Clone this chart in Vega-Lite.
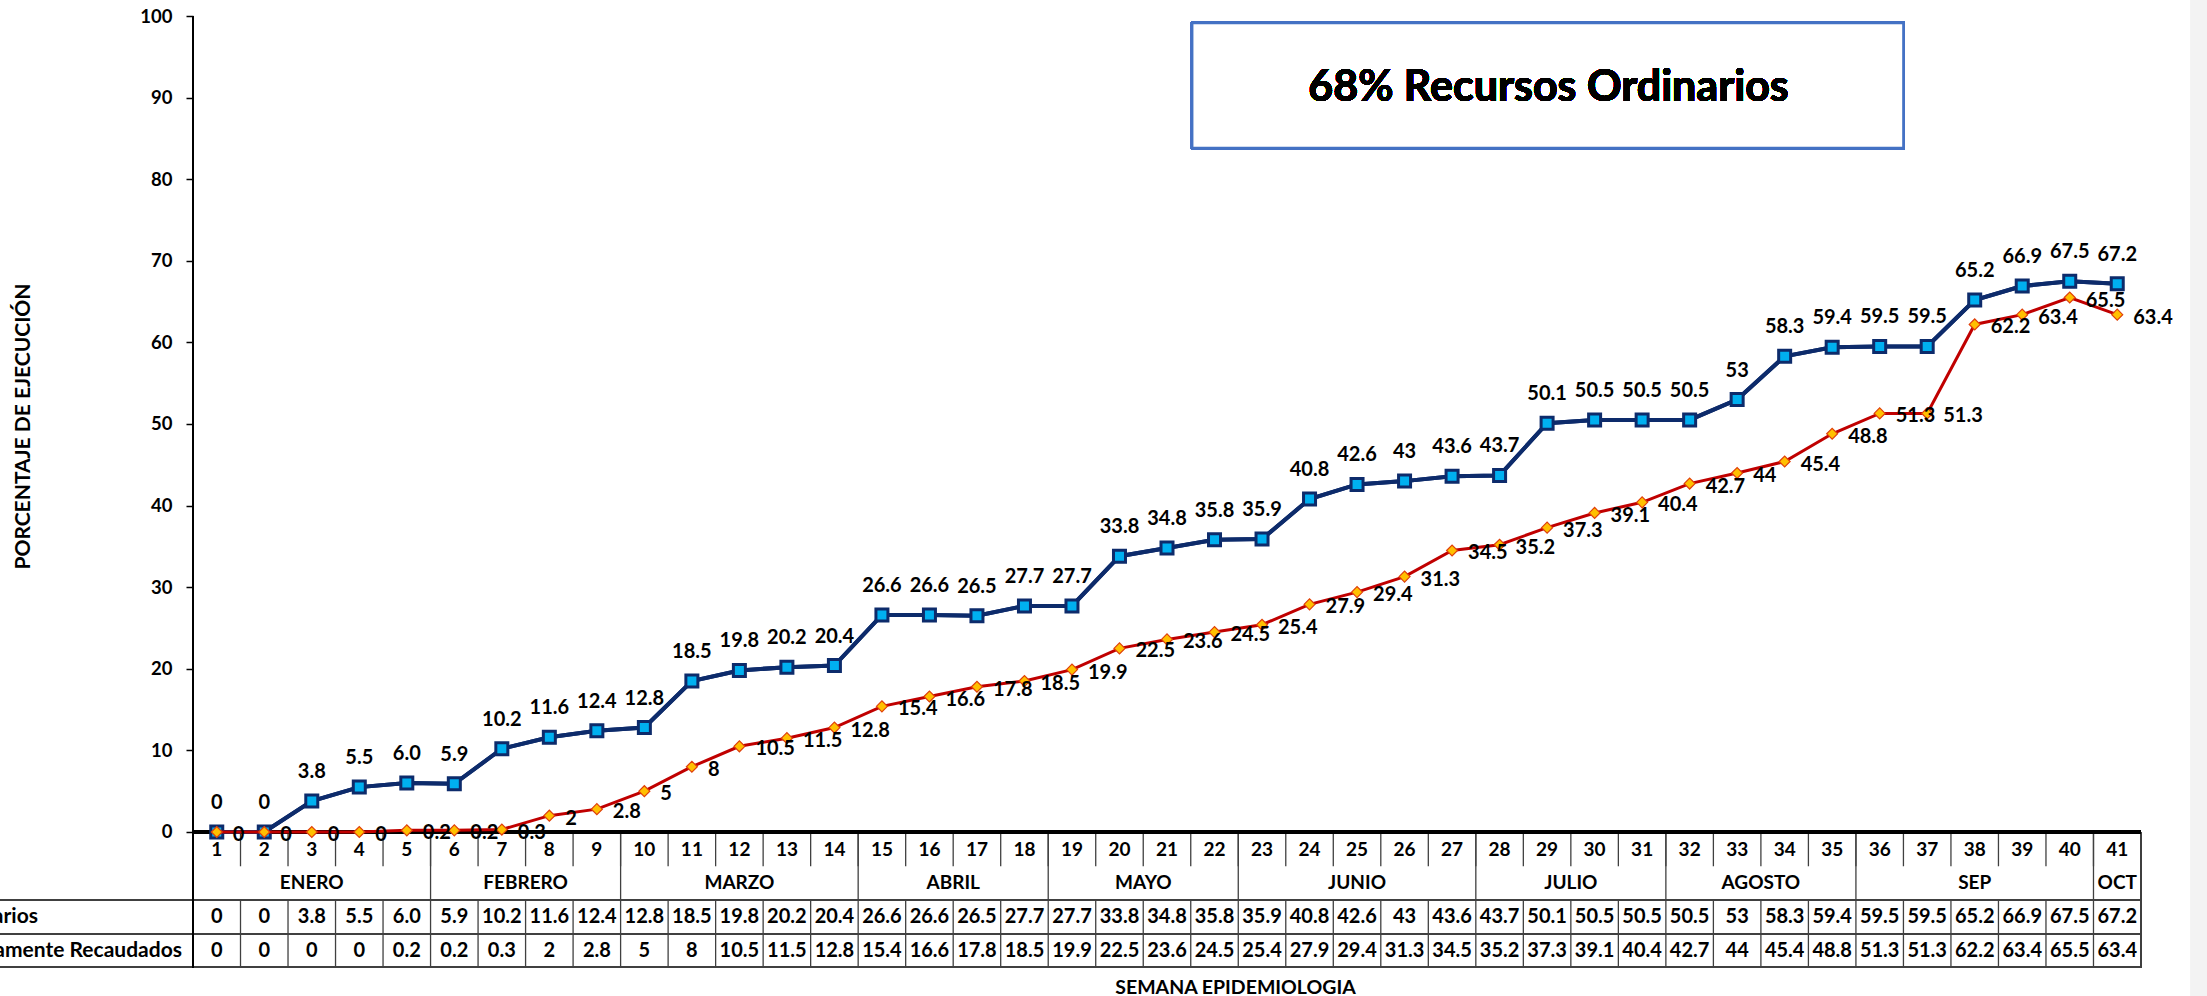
{
  "$schema": "https://vega.github.io/schema/vega-lite/v6.json",
  "width": 1948,
  "height": 952,
  "autosize": {"type": "none"},
  "padding": {"left": 193, "top": 16, "right": 66, "bottom": 28},
  "background": "white",
  "config": {"view": {"stroke": null}, "font": "Lato"},
  "datasets": {
    "semanas": [
      {"week": 1, "mes": "ENERO", "ro": 0, "ro_t": "0", "rdr": 0, "rdr_t": "0"},
      {"week": 2, "mes": "ENERO", "ro": 0, "ro_t": "0", "rdr": 0, "rdr_t": "0"},
      {"week": 3, "mes": "ENERO", "ro": 3.8, "ro_t": "3.8", "rdr": 0, "rdr_t": "0"},
      {"week": 4, "mes": "ENERO", "ro": 5.5, "ro_t": "5.5", "rdr": 0, "rdr_t": "0"},
      {"week": 5, "mes": "ENERO", "ro": 6.0, "ro_t": "6.0", "rdr": 0.2, "rdr_t": "0.2"},
      {"week": 6, "mes": "FEBRERO", "ro": 5.9, "ro_t": "5.9", "rdr": 0.2, "rdr_t": "0.2"},
      {"week": 7, "mes": "FEBRERO", "ro": 10.2, "ro_t": "10.2", "rdr": 0.3, "rdr_t": "0.3"},
      {"week": 8, "mes": "FEBRERO", "ro": 11.6, "ro_t": "11.6", "rdr": 2, "rdr_t": "2"},
      {"week": 9, "mes": "FEBRERO", "ro": 12.4, "ro_t": "12.4", "rdr": 2.8, "rdr_t": "2.8"},
      {"week": 10, "mes": "MARZO", "ro": 12.8, "ro_t": "12.8", "rdr": 5, "rdr_t": "5"},
      {"week": 11, "mes": "MARZO", "ro": 18.5, "ro_t": "18.5", "rdr": 8, "rdr_t": "8"},
      {"week": 12, "mes": "MARZO", "ro": 19.8, "ro_t": "19.8", "rdr": 10.5, "rdr_t": "10.5"},
      {"week": 13, "mes": "MARZO", "ro": 20.2, "ro_t": "20.2", "rdr": 11.5, "rdr_t": "11.5"},
      {"week": 14, "mes": "MARZO", "ro": 20.4, "ro_t": "20.4", "rdr": 12.8, "rdr_t": "12.8"},
      {"week": 15, "mes": "ABRIL", "ro": 26.6, "ro_t": "26.6", "rdr": 15.4, "rdr_t": "15.4"},
      {"week": 16, "mes": "ABRIL", "ro": 26.6, "ro_t": "26.6", "rdr": 16.6, "rdr_t": "16.6"},
      {"week": 17, "mes": "ABRIL", "ro": 26.5, "ro_t": "26.5", "rdr": 17.8, "rdr_t": "17.8"},
      {"week": 18, "mes": "ABRIL", "ro": 27.7, "ro_t": "27.7", "rdr": 18.5, "rdr_t": "18.5"},
      {"week": 19, "mes": "MAYO", "ro": 27.7, "ro_t": "27.7", "rdr": 19.9, "rdr_t": "19.9"},
      {"week": 20, "mes": "MAYO", "ro": 33.8, "ro_t": "33.8", "rdr": 22.5, "rdr_t": "22.5"},
      {"week": 21, "mes": "MAYO", "ro": 34.8, "ro_t": "34.8", "rdr": 23.6, "rdr_t": "23.6"},
      {"week": 22, "mes": "MAYO", "ro": 35.8, "ro_t": "35.8", "rdr": 24.5, "rdr_t": "24.5"},
      {"week": 23, "mes": "JUNIO", "ro": 35.9, "ro_t": "35.9", "rdr": 25.4, "rdr_t": "25.4"},
      {"week": 24, "mes": "JUNIO", "ro": 40.8, "ro_t": "40.8", "rdr": 27.9, "rdr_t": "27.9"},
      {"week": 25, "mes": "JUNIO", "ro": 42.6, "ro_t": "42.6", "rdr": 29.4, "rdr_t": "29.4"},
      {"week": 26, "mes": "JUNIO", "ro": 43, "ro_t": "43", "rdr": 31.3, "rdr_t": "31.3"},
      {"week": 27, "mes": "JUNIO", "ro": 43.6, "ro_t": "43.6", "rdr": 34.5, "rdr_t": "34.5"},
      {"week": 28, "mes": "JULIO", "ro": 43.7, "ro_t": "43.7", "rdr": 35.2, "rdr_t": "35.2"},
      {"week": 29, "mes": "JULIO", "ro": 50.1, "ro_t": "50.1", "rdr": 37.3, "rdr_t": "37.3"},
      {"week": 30, "mes": "JULIO", "ro": 50.5, "ro_t": "50.5", "rdr": 39.1, "rdr_t": "39.1"},
      {"week": 31, "mes": "JULIO", "ro": 50.5, "ro_t": "50.5", "rdr": 40.4, "rdr_t": "40.4"},
      {"week": 32, "mes": "AGOSTO", "ro": 50.5, "ro_t": "50.5", "rdr": 42.7, "rdr_t": "42.7"},
      {"week": 33, "mes": "AGOSTO", "ro": 53, "ro_t": "53", "rdr": 44, "rdr_t": "44"},
      {"week": 34, "mes": "AGOSTO", "ro": 58.3, "ro_t": "58.3", "rdr": 45.4, "rdr_t": "45.4"},
      {"week": 35, "mes": "AGOSTO", "ro": 59.4, "ro_t": "59.4", "rdr": 48.8, "rdr_t": "48.8"},
      {"week": 36, "mes": "SEP", "ro": 59.5, "ro_t": "59.5", "rdr": 51.3, "rdr_t": "51.3"},
      {"week": 37, "mes": "SEP", "ro": 59.5, "ro_t": "59.5", "rdr": 51.3, "rdr_t": "51.3"},
      {"week": 38, "mes": "SEP", "ro": 65.2, "ro_t": "65.2", "rdr": 62.2, "rdr_t": "62.2"},
      {"week": 39, "mes": "SEP", "ro": 66.9, "ro_t": "66.9", "rdr": 63.4, "rdr_t": "63.4"},
      {"week": 40, "mes": "SEP", "ro": 67.5, "ro_t": "67.5", "rdr": 65.5, "rdr_t": "65.5"},
      {"week": 41, "mes": "OCT", "ro": 67.2, "ro_t": "67.2", "rdr": 63.4, "rdr_t": "63.4"}
    ]
  },
  "data": {"name": "semanas"},
  "layer": [
    {
      "mark": {"type": "line", "color": "#0D2B6B", "strokeWidth": 4},
      "encoding": {
        "x": {"field": "week", "type": "quantitative",
          "scale": {"domain": [0.5, 41.5], "nice": false, "zero": false},
          "axis": {"title": "SEMANA EPIDEMIOLOGIA", "labels": false, "ticks": false, "domain": false, "grid": false,
            "titleFontSize": 19.5, "titleFontWeight": "bold", "titleColor": "black", "titleFont": "Lato",
            "titleX": 1042, "titleY": 19, "titleBaseline": "middle", "titleAlign": "center"}},
        "y": {"field": "ro", "type": "quantitative",
          "scale": {"domain": [-16.667, 100], "nice": false, "zero": false},
          "axis": {"values": [0, 10, 20, 30, 40, 50, 60, 70, 80, 90, 100], "domain": false, "grid": false,
            "ticks": true, "tickSize": 7, "tickColor": "black", "tickWidth": 1.5,
            "labelFontSize": 18.5, "labelFontWeight": "bold", "labelColor": "black", "labelPadding": 14, "labelFont": "Lato",
            "title": "PORCENTAJE DE EJECUCIÓN", "titleFontSize": 21, "titleFontWeight": "bold", "titleColor": "black", "titleFont": "Lato",
            "titleX": -170, "titleY": 410, "titleAngle": -90, "titleAlign": "center", "titleBaseline": "middle"}}
      }
    },
    {
      "mark": {"type": "rect", "fill": "#f3f3f3"},
      "encoding": {
        "x": {"datum": 42.54, "type": "quantitative"},
        "x2": {"datum": 43.6},
        "y": {"datum": 104, "type": "quantitative"},
        "y2": {"datum": -22}
      }
    },
    {
      "mark": {"type": "rect", "fill": "white", "stroke": "#4472C4", "strokeWidth": 2.5},
      "encoding": {
        "x": {"datum": 21.53, "type": "quantitative"},
        "x2": {"datum": 36.5},
        "y": {"datum": 99.14, "type": "quantitative"},
        "y2": {"datum": 83.82}
      }
    },
    {
      "mark": {"type": "text", "text": "68% Recursos Ordinarios", "fontSize": 43, "fontWeight": "bold", "font": "Lato", "color": "black", "align": "center", "baseline": "middle"},
      "encoding": {
        "x": {"datum": 29.03, "type": "quantitative"},
        "y": {"datum": 91.2, "type": "quantitative"}
      }
    },
    {
      "mark": {"type": "rule", "color": "#404040", "strokeWidth": 1.3, "xOffset": 23.75},
      "encoding": {
        "x": {"field": "week", "type": "quantitative"},
        "y": {"datum": 0, "type": "quantitative"},
        "y2": {"datum": -4.2}
      }
    },
    {
      "mark": {"type": "rule", "color": "#404040", "strokeWidth": 1.3, "xOffset": 23.75},
      "encoding": {
        "x": {"field": "week", "type": "quantitative"},
        "y": {"datum": -8.33, "type": "quantitative"},
        "y2": {"datum": -16.667}
      }
    },
    {
      "transform": [{"aggregate": [{"op": "max", "field": "week", "as": "last"}], "groupby": ["mes"]}],
      "mark": {"type": "rule", "color": "#404040", "strokeWidth": 1.3, "xOffset": 23.75},
      "encoding": {
        "x": {"field": "last", "type": "quantitative"},
        "y": {"datum": 0, "type": "quantitative"},
        "y2": {"datum": -8.33}
      }
    },
    {
      "mark": {"type": "rule", "color": "#404040", "strokeWidth": 1.3},
      "encoding": {
        "x": {"datum": -6, "type": "quantitative"},
        "x2": {"datum": 41.5},
        "y": {"datum": -8.33, "type": "quantitative"}
      }
    },
    {
      "mark": {"type": "rule", "color": "#404040", "strokeWidth": 1.3},
      "encoding": {
        "x": {"datum": -6, "type": "quantitative"},
        "x2": {"datum": 41.5},
        "y": {"datum": -12.55, "type": "quantitative"}
      }
    },
    {
      "mark": {"type": "rule", "color": "#404040", "strokeWidth": 1.3},
      "encoding": {
        "x": {"datum": -6, "type": "quantitative"},
        "x2": {"datum": 41.5},
        "y": {"datum": -16.6, "type": "quantitative"}
      }
    },
    {
      "mark": {"type": "rule", "color": "#404040", "strokeWidth": 1.3},
      "encoding": {
        "x": {"datum": 41.5, "type": "quantitative"},
        "y": {"datum": 0, "type": "quantitative"},
        "y2": {"datum": -16.667}
      }
    },
    {
      "mark": {"type": "rule", "color": "black", "strokeWidth": 1.6},
      "encoding": {
        "x": {"datum": 0.5, "type": "quantitative"},
        "y": {"datum": 100, "type": "quantitative"},
        "y2": {"datum": -16.667}
      }
    },
    {
      "mark": {"type": "rule", "color": "black", "strokeWidth": 2.5},
      "encoding": {
        "x": {"datum": 0.5, "type": "quantitative"},
        "x2": {"datum": 41.5},
        "y": {"datum": 0, "type": "quantitative"}
      }
    },
    {
      "mark": {"type": "line", "color": "#0D2B6B", "strokeWidth": 4},
      "encoding": {
        "x": {"field": "week", "type": "quantitative"},
        "y": {"field": "ro", "type": "quantitative"}
      }
    },
    {
      "mark": {"type": "point", "shape": "square", "size": 144, "filled": true, "fill": "#00B0F0", "stroke": "#0D2B6B", "strokeWidth": 3, "opacity": 1},
      "encoding": {
        "x": {"field": "week", "type": "quantitative"},
        "y": {"field": "ro", "type": "quantitative"}
      }
    },
    {
      "mark": {"type": "line", "color": "#C00000", "strokeWidth": 3},
      "encoding": {
        "x": {"field": "week", "type": "quantitative"},
        "y": {"field": "rdr", "type": "quantitative"}
      }
    },
    {
      "mark": {"type": "point", "shape": "diamond", "size": 120, "filled": true, "fill": "#FFC000", "stroke": "#E0400A", "strokeWidth": 1.2, "opacity": 1},
      "encoding": {
        "x": {"field": "week", "type": "quantitative"},
        "y": {"field": "rdr", "type": "quantitative"}
      }
    },
    {
      "mark": {"type": "text", "fontSize": 20, "fontWeight": "bold", "font": "Lato", "color": "black", "align": "center", "baseline": "middle", "dy": -29},
      "encoding": {
        "x": {"field": "week", "type": "quantitative"},
        "y": {"field": "ro", "type": "quantitative"},
        "text": {"field": "ro_t"}
      }
    },
    {
      "mark": {"type": "text", "fontSize": 20, "fontWeight": "bold", "font": "Lato", "color": "black", "align": "left", "baseline": "middle", "dx": 16, "dy": 3},
      "encoding": {
        "x": {"field": "week", "type": "quantitative"},
        "y": {"field": "rdr", "type": "quantitative"},
        "text": {"field": "rdr_t"}
      }
    },
    {
      "mark": {"type": "text", "fontSize": 19, "fontWeight": "bold", "font": "Lato", "color": "black", "align": "center", "baseline": "middle"},
      "encoding": {
        "x": {"field": "week", "type": "quantitative"},
        "y": {"datum": -2.2, "type": "quantitative"},
        "text": {"field": "week", "type": "quantitative"}
      }
    },
    {
      "transform": [{"aggregate": [{"op": "mean", "field": "week", "as": "centro"}], "groupby": ["mes"]}],
      "mark": {"type": "text", "fontSize": 19, "fontWeight": "bold", "font": "Lato", "color": "black", "align": "center", "baseline": "middle"},
      "encoding": {
        "x": {"field": "centro", "type": "quantitative"},
        "y": {"datum": -6.25, "type": "quantitative"},
        "text": {"field": "mes"}
      }
    },
    {
      "mark": {"type": "text", "fontSize": 20, "fontWeight": "bold", "font": "Lato", "color": "black", "align": "center", "baseline": "middle"},
      "encoding": {
        "x": {"field": "week", "type": "quantitative"},
        "y": {"datum": -10.4, "type": "quantitative"},
        "text": {"field": "ro_t"}
      }
    },
    {
      "mark": {"type": "text", "fontSize": 20, "fontWeight": "bold", "font": "Lato", "color": "black", "align": "center", "baseline": "middle"},
      "encoding": {
        "x": {"field": "week", "type": "quantitative"},
        "y": {"datum": -14.6, "type": "quantitative"},
        "text": {"field": "rdr_t"}
      }
    },
    {
      "data": {"values": [{"fila": "Recursos Ordinarios"}]},
      "mark": {"type": "text", "fontSize": 21, "fontWeight": "bold", "font": "Lato", "color": "black", "align": "right", "baseline": "middle", "dx": -155},
      "encoding": {
        "x": {"datum": 0.5, "type": "quantitative"},
        "y": {"datum": -10.4, "type": "quantitative"},
        "text": {"field": "fila"}
      }
    },
    {
      "data": {"values": [{"fila": "Recursos Directamente Recaudados"}]},
      "mark": {"type": "text", "fontSize": 21, "fontWeight": "bold", "font": "Lato", "color": "black", "align": "right", "baseline": "middle", "dx": -11},
      "encoding": {
        "x": {"datum": 0.5, "type": "quantitative"},
        "y": {"datum": -14.6, "type": "quantitative"},
        "text": {"field": "fila"}
      }
    }
  ]
}
